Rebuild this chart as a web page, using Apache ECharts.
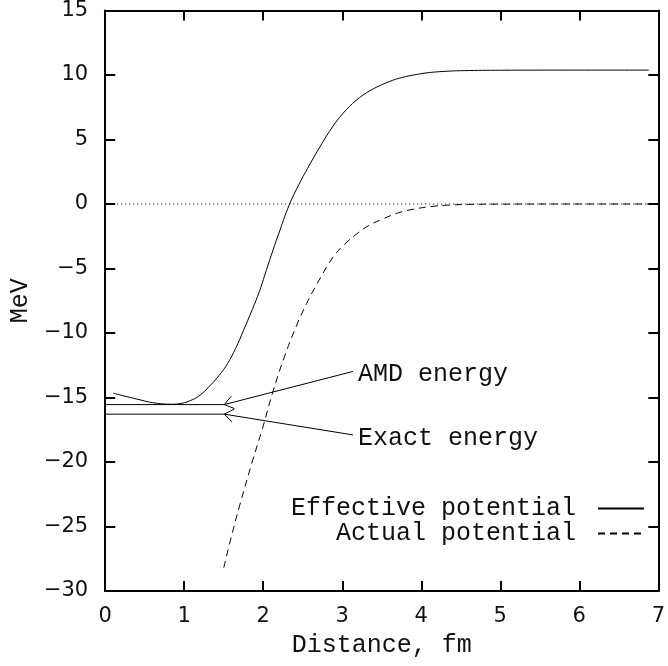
<!DOCTYPE html>
<html>
<head>
<meta charset="utf-8">
<script src="https://cdn.jsdelivr.net/npm/echarts@6/dist/echarts.min.js"></script>
<style>html,body{margin:0;padding:0;background:#fff}#c{width:668px;height:666px}</style>
</head>
<body>
<div id="c"></div>
<script>
// Effective potential (solid)
const effX = [0.1, 0.25, 0.4, 0.6, 0.83, 0.97, 1.1, 1.2, 1.3, 1.44, 1.55, 1.65, 1.75, 1.86, 1.95, 2.02, 2.1, 2.19, 2.33, 2.45, 2.56, 2.7, 2.89, 3.05, 3.22, 3.4, 3.6, 3.75, 3.95, 4.12, 4.35, 4.55, 5.0, 6.0, 6.88];
const effY = [-14.66, -14.9, -15.12, -15.4, -15.52, -15.45, -15.18, -14.82, -14.25, -13.3, -12.35, -11.2, -9.8, -8.2, -6.8, -5.5, -4.0, -2.4, -0.05, 1.5, 2.75, 4.25, 6.1, 7.3, 8.25, 8.95, 9.5, 9.8, 10.05, 10.2, 10.3, 10.34, 10.37, 10.38, 10.38];
// Actual potential (dashed)
const actX = [1.5, 1.6, 1.7, 1.86, 1.99, 2.12, 2.27, 2.43, 2.55, 2.68, 2.886, 3.05, 3.2, 3.34, 3.5, 3.7, 3.92, 4.15, 4.33, 4.6, 5.0, 6.0, 6.88];
const actY = [-28.2, -25.7, -23.4, -20, -17.4, -14.6, -11.8, -9.3, -7.7, -6.2, -4.1, -3.0, -2.24, -1.65, -1.2, -0.7, -0.38, -0.18, -0.09, -0.03, -0.01, 0, 0];
// zero reference line
const zeroX = [0, 6.9];
const zeroY = [0, 0];
// energy levels
const levelNames = ['AMD energy', 'Exact energy'];
const levelY = [-15.55, -16.29];
const levelX0 = [0, 0];
const levelX1 = [1.506, 1.506];
// annotation label anchor points
const labelX = [3.135, 3.135];
const labelY = [-12.98, -17.9];
// tick settings
const xTicks = [0, 1, 2, 3, 4, 5, 6, 7];
const yTicks = [-30, -25, -20, -15, -10, -5, 0, 5, 10, 15];
const seriesNames = ['Effective potential', 'Actual potential'];

const zip = (xs, ys) => xs.map((x, i) => [x, ys[i]]);

const chart = echarts.init(document.getElementById('c'), null, {renderer: 'canvas'});
const axisLineStyle = {color: '#000', width: 2};
const tickStyle = {show: true, inside: true, length: 10, lineStyle: {color: '#000', width: 2}};
const labelFont = {fontFamily: 'DejaVu Sans', fontSize: 21, color: '#111'};
const monoFont = 'Liberation Mono';

const levelSeries = levelY.map((y, i) => ({
  type: 'line', name: 'level' + i, symbol: 'none', silent: true, animation: false,
  lineStyle: {color: '#000', width: 1},
  data: [[levelX0[i], y], [levelX1[i], y]]
}));

const option = {
  animation: false,
  backgroundColor: '#fff',
  grid: {left: 96, right: 6, top: 5, bottom: 75},
  xAxis: [{
    type: 'value', min: xTicks[0], max: xTicks[xTicks.length - 1], interval: 1,
    axisLine: {show: true, onZero: false, lineStyle: axisLineStyle},
    axisTick: tickStyle, splitLine: {show: false},
    axisLabel: Object.assign({margin: 15}, labelFont),
    name: 'Distance, fm', nameLocation: 'middle', nameGap: 42,
    nameTextStyle: {fontFamily: monoFont, fontSize: 25, color: '#111'}
  }, {
    type: 'value', position: 'top', min: xTicks[0], max: xTicks[xTicks.length - 1], interval: 1,
    axisLine: {show: true, onZero: false, lineStyle: axisLineStyle},
    axisTick: tickStyle, splitLine: {show: false}, axisLabel: {show: false}
  }],
  yAxis: [{
    type: 'value', min: yTicks[0], max: yTicks[yTicks.length - 1], interval: 5,
    axisLine: {show: true, onZero: false, lineStyle: axisLineStyle},
    axisTick: tickStyle, splitLine: {show: false},
    axisLabel: Object.assign({margin: 17, formatter: v => String(v).replace('-', '\u2212')}, labelFont),
    name: 'MeV', nameLocation: 'middle', nameGap: 70,
    nameTextStyle: {fontFamily: monoFont, fontSize: 25, color: '#111'}
  }, {
    type: 'value', position: 'right', min: yTicks[0], max: yTicks[yTicks.length - 1], interval: 5,
    axisLine: {show: true, onZero: false, lineStyle: axisLineStyle},
    axisTick: tickStyle, splitLine: {show: false}, axisLabel: {show: false}
  }],
  legend: {
    data: seriesNames,
    orient: 'vertical', right: 18, top: 491, align: 'right',
    itemWidth: 46, itemHeight: 12, itemGap: 0,
    selectedMode: false,
    itemStyle: {color: 'rgba(0,0,0,0)', borderWidth: 0, opacity: 0},
    textStyle: {fontFamily: monoFont, fontSize: 25, color: '#111', lineHeight: 21, padding: [0, 17, 0, 0]}
  },
  series: [
    {
      type: 'line', name: 'zero', symbol: 'none', silent: true,
      lineStyle: {color: '#000', width: 1, type: [1, 3]},
      data: zip(zeroX, zeroY)
    },
    {
      type: 'line', name: seriesNames[0], symbol: 'none', smooth: 0.4,
      lineStyle: {color: '#000', width: 1, type: 'solid'},
      itemStyle: {color: '#000'},
      data: zip(effX, effY)
    },
    {
      type: 'line', name: seriesNames[1], symbol: 'none', smooth: 0.4,
      lineStyle: {color: '#000', width: 1, type: [7, 5]},
      itemStyle: {color: '#000'},
      data: zip(actX, actY)
    },
    ...levelSeries,
    {
      type: 'custom', name: 'annotations', silent: true, clip: false,
      data: levelY.map((y, i) => [levelX1[i], y, labelX[i], labelY[i]]),
      renderItem: function (params, api) {
        const tip = api.coord([api.value(0), api.value(1)]);
        const end = api.coord([api.value(2), api.value(3)]);
        const ang = Math.atan2(end[1] - tip[1], end[0] - tip[0]);
        const L = 11, a = 0.62;
        const p1 = [tip[0] + L * Math.cos(ang + a), tip[1] + L * Math.sin(ang + a)];
        const p2 = [tip[0] + L * Math.cos(ang - a), tip[1] + L * Math.sin(ang - a)];
        return {
          type: 'group',
          children: [
            {type: 'line', shape: {x1: tip[0], y1: tip[1], x2: end[0], y2: end[1]}, style: {stroke: '#000', lineWidth: 1}},
            {type: 'polyline', shape: {points: [p1, tip, p2]}, style: {stroke: '#000', fill: null, lineWidth: 1}},
            {type: 'text', x: end[0] + 5, y: end[1] + 3,
             style: {text: levelNames[params.dataIndex], font: '25px "Liberation Mono"', fill: '#111', verticalAlign: 'middle', align: 'left'}}
          ]
        };
      }
    }
  ]
};
chart.setOption(option);
</script>
</body>
</html>
